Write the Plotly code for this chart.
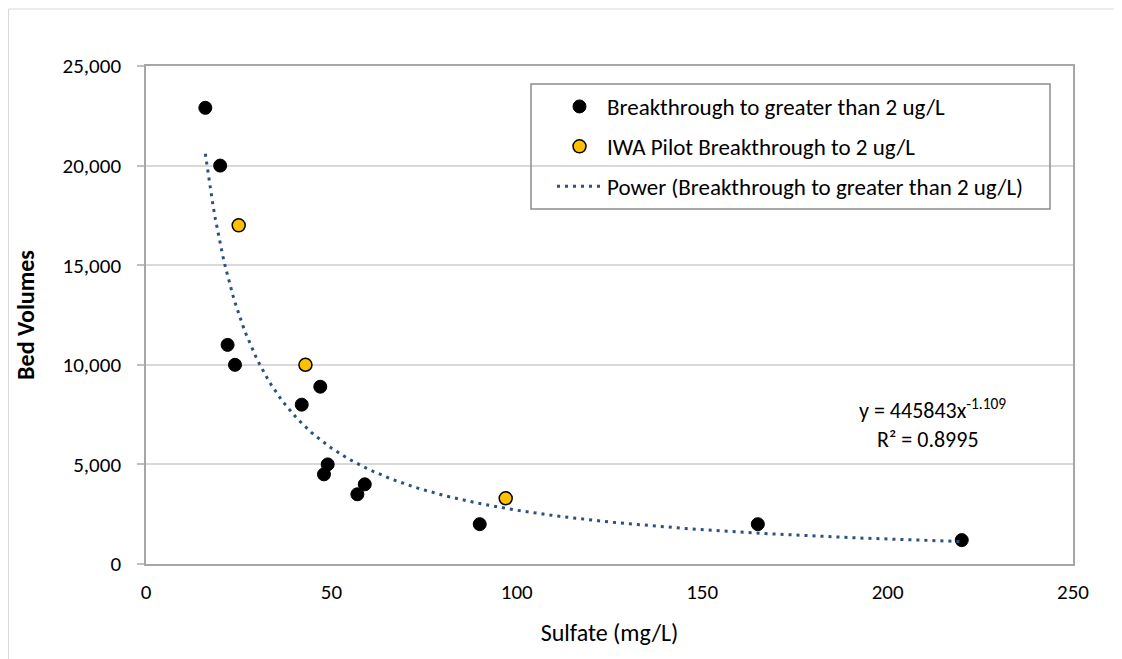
import numpy as np
import plotly.graph_objects as go

# Data
black_x = [16, 20, 22, 24, 42, 47, 48, 49, 57, 59, 90, 165, 220]
black_y = [22900, 20000, 11000, 10000, 8000, 8900, 4500, 5000, 3500, 4000, 2000, 2000, 1200]
pilot_x = [25, 43, 97]
pilot_y = [17000, 10000, 3300]

# Power trendline as shown on the chart: y = a * x^b
trend_a = 445843
trend_b = -1.109
trend_r2 = 0.8995

FONT = "Carlito, Lato, 'Open Sans', sans-serif"
TICK_SIZE = 21
TEXT_SIZE = 22
LEGEND_SIZE = 23
TITLE_SIZE = 24

tx = np.linspace(min(black_x), max(black_x), 300)
ty = trend_a * tx ** trend_b

fig = go.Figure()
fig.add_trace(go.Scatter(
    x=black_x, y=black_y, mode="markers",
    name="Breakthrough to greater than 2 ug/L",
    legendgroup="a",
    marker=dict(color="black", size=13, line=dict(color="black", width=1)),
))
fig.add_trace(go.Scatter(
    x=pilot_x, y=pilot_y, mode="markers",
    name="IWA Pilot Breakthrough to 2 ug/L",
    legendgroup="b",
    marker=dict(color="#FFC000", size=13, line=dict(color="black", width=1.5)),
))
fig.add_trace(go.Scatter(
    x=tx, y=ty, mode="lines",
    name="Power (Breakthrough to greater than 2 ug/L)",
    legendgroup="c",
    line=dict(color="#2E5080", width=3, dash="3px,5px"),
))

# page offset (browser body margin) = 8px
W, H = 1114, 651
PL, PR, PT, PB = 146, 1073, 66, 564   # plot area in page pixels
OFF = 8
L, T = PL - OFF, PT - OFF
R = W - (PR - OFF)
B = H - (PB - OFF)
pw, ph = PR - PL, PB - PT

def px_x(p):
    return (p - PL) / pw

def px_y(p):
    return (PB - p) / ph

fig.update_layout(
    width=W, height=H,
    margin=dict(l=L, r=R, t=T, b=B),
    paper_bgcolor="white", plot_bgcolor="white",
    font=dict(family=FONT, size=TEXT_SIZE, color="black"),
    showlegend=True,
    legend=dict(
        x=px_x(552), y=px_y(85), xanchor="left", yanchor="top",
        bgcolor="rgba(0,0,0,0)", borderwidth=0,
        traceorder="grouped", tracegroupgap=7,
        itemwidth=45,
        font=dict(family=FONT, size=LEGEND_SIZE, color="black"),
    ),
    shapes=[
        # outer chart border
        dict(type="rect", xref="paper", yref="paper",
             x0=px_x(8.5), x1=px_x(1121), y0=px_y(670), y1=px_y(9),
             line=dict(color="#d9d9d9", width=1), layer="below"),
        # legend border
        dict(type="rect", xref="paper", yref="paper",
             x0=px_x(531), x1=px_x(1050), y0=px_y(209), y1=px_y(84),
             line=dict(color="#8c8c8c", width=1.5), fillcolor="rgba(0,0,0,0)"),
    ],
    annotations=[
        dict(xref="paper", yref="paper", x=px_x(932), y=px_y(409),
             text="y = %dx<sup>%.3f</sup>" % (trend_a, trend_b),
             showarrow=False, xanchor="center", yanchor="middle",
             font=dict(family=FONT, size=TEXT_SIZE, color="black")),
        dict(xref="paper", yref="paper", x=px_x(928), y=px_y(439),
             text="R² = %.4f" % trend_r2,
             showarrow=False, xanchor="center", yanchor="middle",
             font=dict(family=FONT, size=TEXT_SIZE, color="black")),
    ],
)

fig.update_xaxes(
    range=[0, 250], dtick=50, tick0=0,
    showgrid=False, zeroline=False,
    showline=True, mirror=True, linecolor="#a6a6a6", linewidth=1.5,
    ticks="", ticklabelstandoff=8,
    tickfont=dict(family=FONT, size=TICK_SIZE, color="black"),
    title=dict(text="Sulfate (mg/L)", standoff=20,
               font=dict(family=FONT, size=TITLE_SIZE, color="black")),
)
fig.update_yaxes(
    range=[0, 25000], dtick=5000, tick0=0,
    tickformat=",d",
    showgrid=True, gridcolor="#d9d9d9", gridwidth=1.5,
    zeroline=False,
    showline=True, mirror=True, linecolor="#a6a6a6", linewidth=1.5,
    ticks="outside", ticklen=7, tickcolor="#bfbfbf", tickwidth=1.5,
    ticklabelstandoff=12,
    tickfont=dict(family=FONT, size=TICK_SIZE, color="black"),
    title=dict(text="<b>Bed Volumes</b>", standoff=21,
               font=dict(family=FONT, size=TITLE_SIZE, color="black")),
)

fig.write_html("out.html")
